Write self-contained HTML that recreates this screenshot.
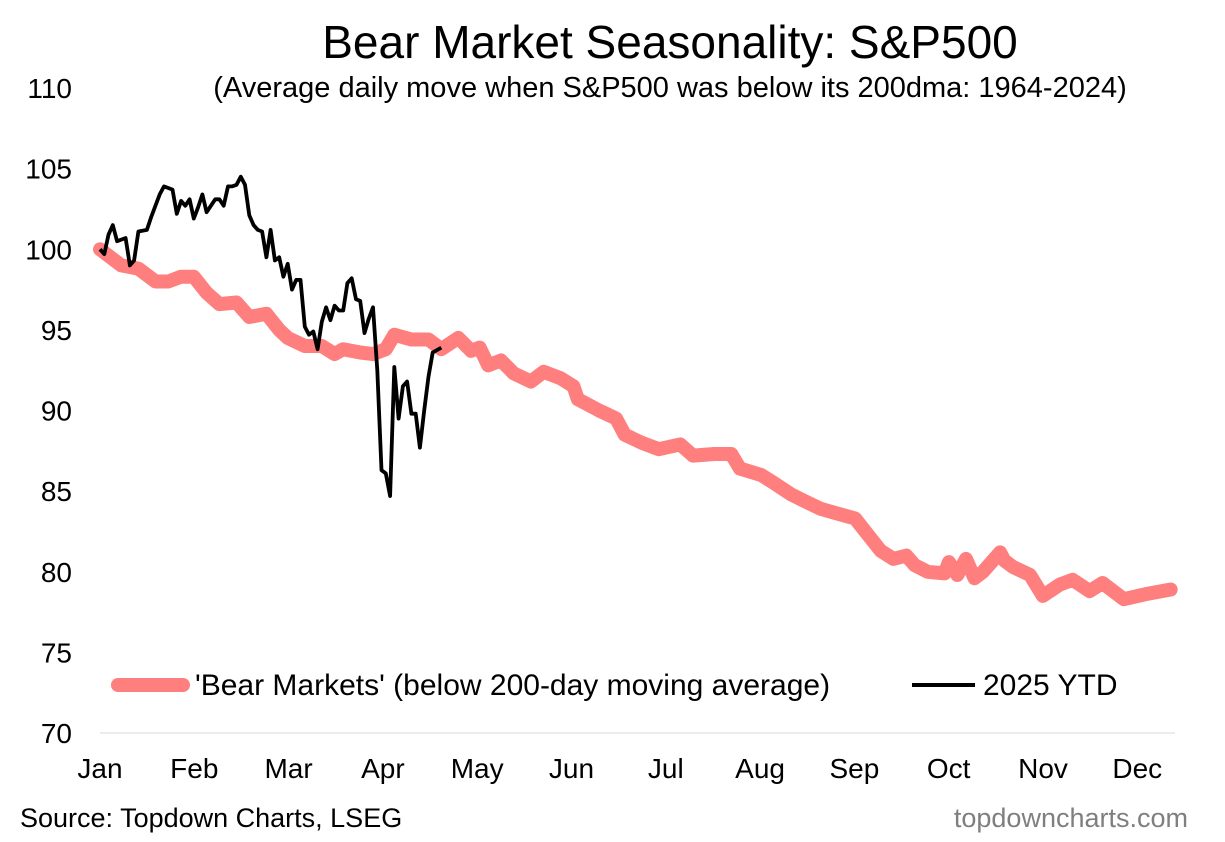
<!DOCTYPE html>
<html><head><meta charset="utf-8"><style>
body{margin:0;background:#fff;}
svg text{font-family:"Liberation Sans",Arial,sans-serif;}
</style></head><body>
<svg id="chart" width="1225" height="837" viewBox="0 0 1225 837" xmlns="http://www.w3.org/2000/svg">
<rect width="1225" height="837" fill="#fff"/>
<text x="670" y="58" font-size="46" text-anchor="middle" fill="#000">Bear Market Seasonality: S&amp;P500</text>
<text x="670" y="97" font-size="29" text-anchor="middle" fill="#000">(Average daily move when S&amp;P500 was below its 200dma: 1964-2024)</text>
<g id="yticks"></g><g id="xticks"></g>
<line x1="100" y1="733" x2="1175" y2="733" stroke="#d9d9d9" stroke-width="1"/>
<path id="bear" fill="none" stroke="#ff7f7f" stroke-width="14" stroke-linejoin="round" stroke-linecap="round"/>
<path id="ytd" fill="none" stroke="#000" stroke-width="3.8" stroke-linejoin="round"/>
<g>
<line x1="118" y1="685" x2="183" y2="685" stroke="#ff7f7f" stroke-width="14" stroke-linecap="round"/>
<text x="195" y="695" font-size="30">'Bear Markets' (below 200-day moving average)</text>
<line x1="912" y1="685" x2="975" y2="685" stroke="#000" stroke-width="4"/>
<text x="983" y="695" font-size="30">2025 YTD</text>
</g>
<text x="20" y="827" font-size="27">Source: Topdown Charts, LSEG</text>
<text x="1188" y="827" font-size="27" text-anchor="end" fill="#7f7f7f">topdowncharts.com</text>
</svg>
<script>
const yTicks=[70,75,80,85,90,95,100,105,110];
const months=["Jan","Feb","Mar","Apr","May","Jun","Jul","Aug","Sep","Oct","Nov","Dec"];
const bearDays=[0,5,9,13,16,19,22,25,28,32,35,39,42,44,48,52,55,57,61,64,67,69,73,77,80,84,87,89,91,94,97,101,104,108,111,112,117,121,123,127,131,136,139,144,148,150,155,158,162,165,169,173,177,180,183,186,189,191,194,198,199,201,203,205,207,211,212,214,218,221,225,228,232,235,240,245,251];
const bearVals=[100,99.0,98.8,98,98,98.3,98.3,97.3,96.6,96.7,95.8,96.0,95.0,94.5,94.0,94.0,93.5,93.8,93.6,93.5,93.8,94.7,94.4,94.4,93.8,94.5,93.7,93.9,92.8,93.1,92.3,91.8,92.4,92.0,91.5,90.7,90.0,89.5,88.5,88.0,87.6,87.9,87.2,87.3,87.3,86.4,86.0,85.5,84.8,84.4,83.9,83.6,83.3,82.3,81.3,80.8,81.0,80.4,80.0,79.9,80.6,79.8,80.8,79.6,80.0,81.2,80.7,80.3,79.8,78.5,79.2,79.5,78.8,79.3,78.3,78.6,78.9];
const ytdDays=[0,1,2,3,4,5,6,7,8,9,11,12,14,15,17,18,19,20,21,22,23,24,25,27,28,29,30,31,32,33,34,35,36,37,38,39,40,41,42,43,44,45,46,47,48,49,50,51,52,53,54,55,56,57,58,59,60,61,62,63,64,65,66,67,68,69,70,71,72,73,74,75,76,77,78,80];
const ytdVals=[100,99.7,100.9,101.5,100.5,100.6,100.7,99.0,99.3,101.1,101.2,102.0,103.4,103.9,103.7,102.2,103.0,102.7,103.1,101.9,102.6,103.4,102.3,103.1,103.1,102.7,103.9,103.9,104.0,104.5,104.0,102.1,101.5,101.2,101.1,99.5,101.2,99.3,99.5,98.3,99.1,97.5,98.1,98.1,95.2,94.7,94.9,93.8,95.5,96.4,95.6,96.5,96.2,96.2,97.9,98.2,96.9,96.8,94.8,95.7,96.4,92.5,86.3,86.1,84.7,92.7,89.5,91.5,91.8,89.8,89.8,87.7,90.0,92.1,93.6,93.9];
const NS="http://www.w3.org/2000/svg";
const X0=100,X1=1175,NDAYS=252;
function xs(d){return X0+d*(X1-X0)/NDAYS;}
function ys(v){return 733-(v-70)*(645/40);}
const yg=document.getElementById('yticks');
yTicks.forEach(v=>{
 const t=document.createElementNS(NS,'text');
 
 
 t.setAttribute('x',72);t.setAttribute('y',ys(v)+10);t.setAttribute('font-size','28');t.setAttribute('text-anchor','end');
 t.textContent=v;yg.appendChild(t);
});
const xg=document.getElementById('xticks');
months.forEach((m,i)=>{
 const t=document.createElementNS(NS,'text');
 
 
 t.setAttribute('x',X0+i*94.3);t.setAttribute('y',778);t.setAttribute('font-size','28');t.setAttribute('text-anchor','middle');
 t.textContent=m;xg.appendChild(t);
});
function path(ds,vs){return ds.map((d,i)=>(i?'L':'M')+xs(d).toFixed(1)+' '+ys(vs[i]).toFixed(1)).join(' ');}
document.getElementById('bear').setAttribute('d',path(bearDays,bearVals));
document.getElementById('ytd').setAttribute('d',path(ytdDays,ytdVals));
</script>
</body></html>
